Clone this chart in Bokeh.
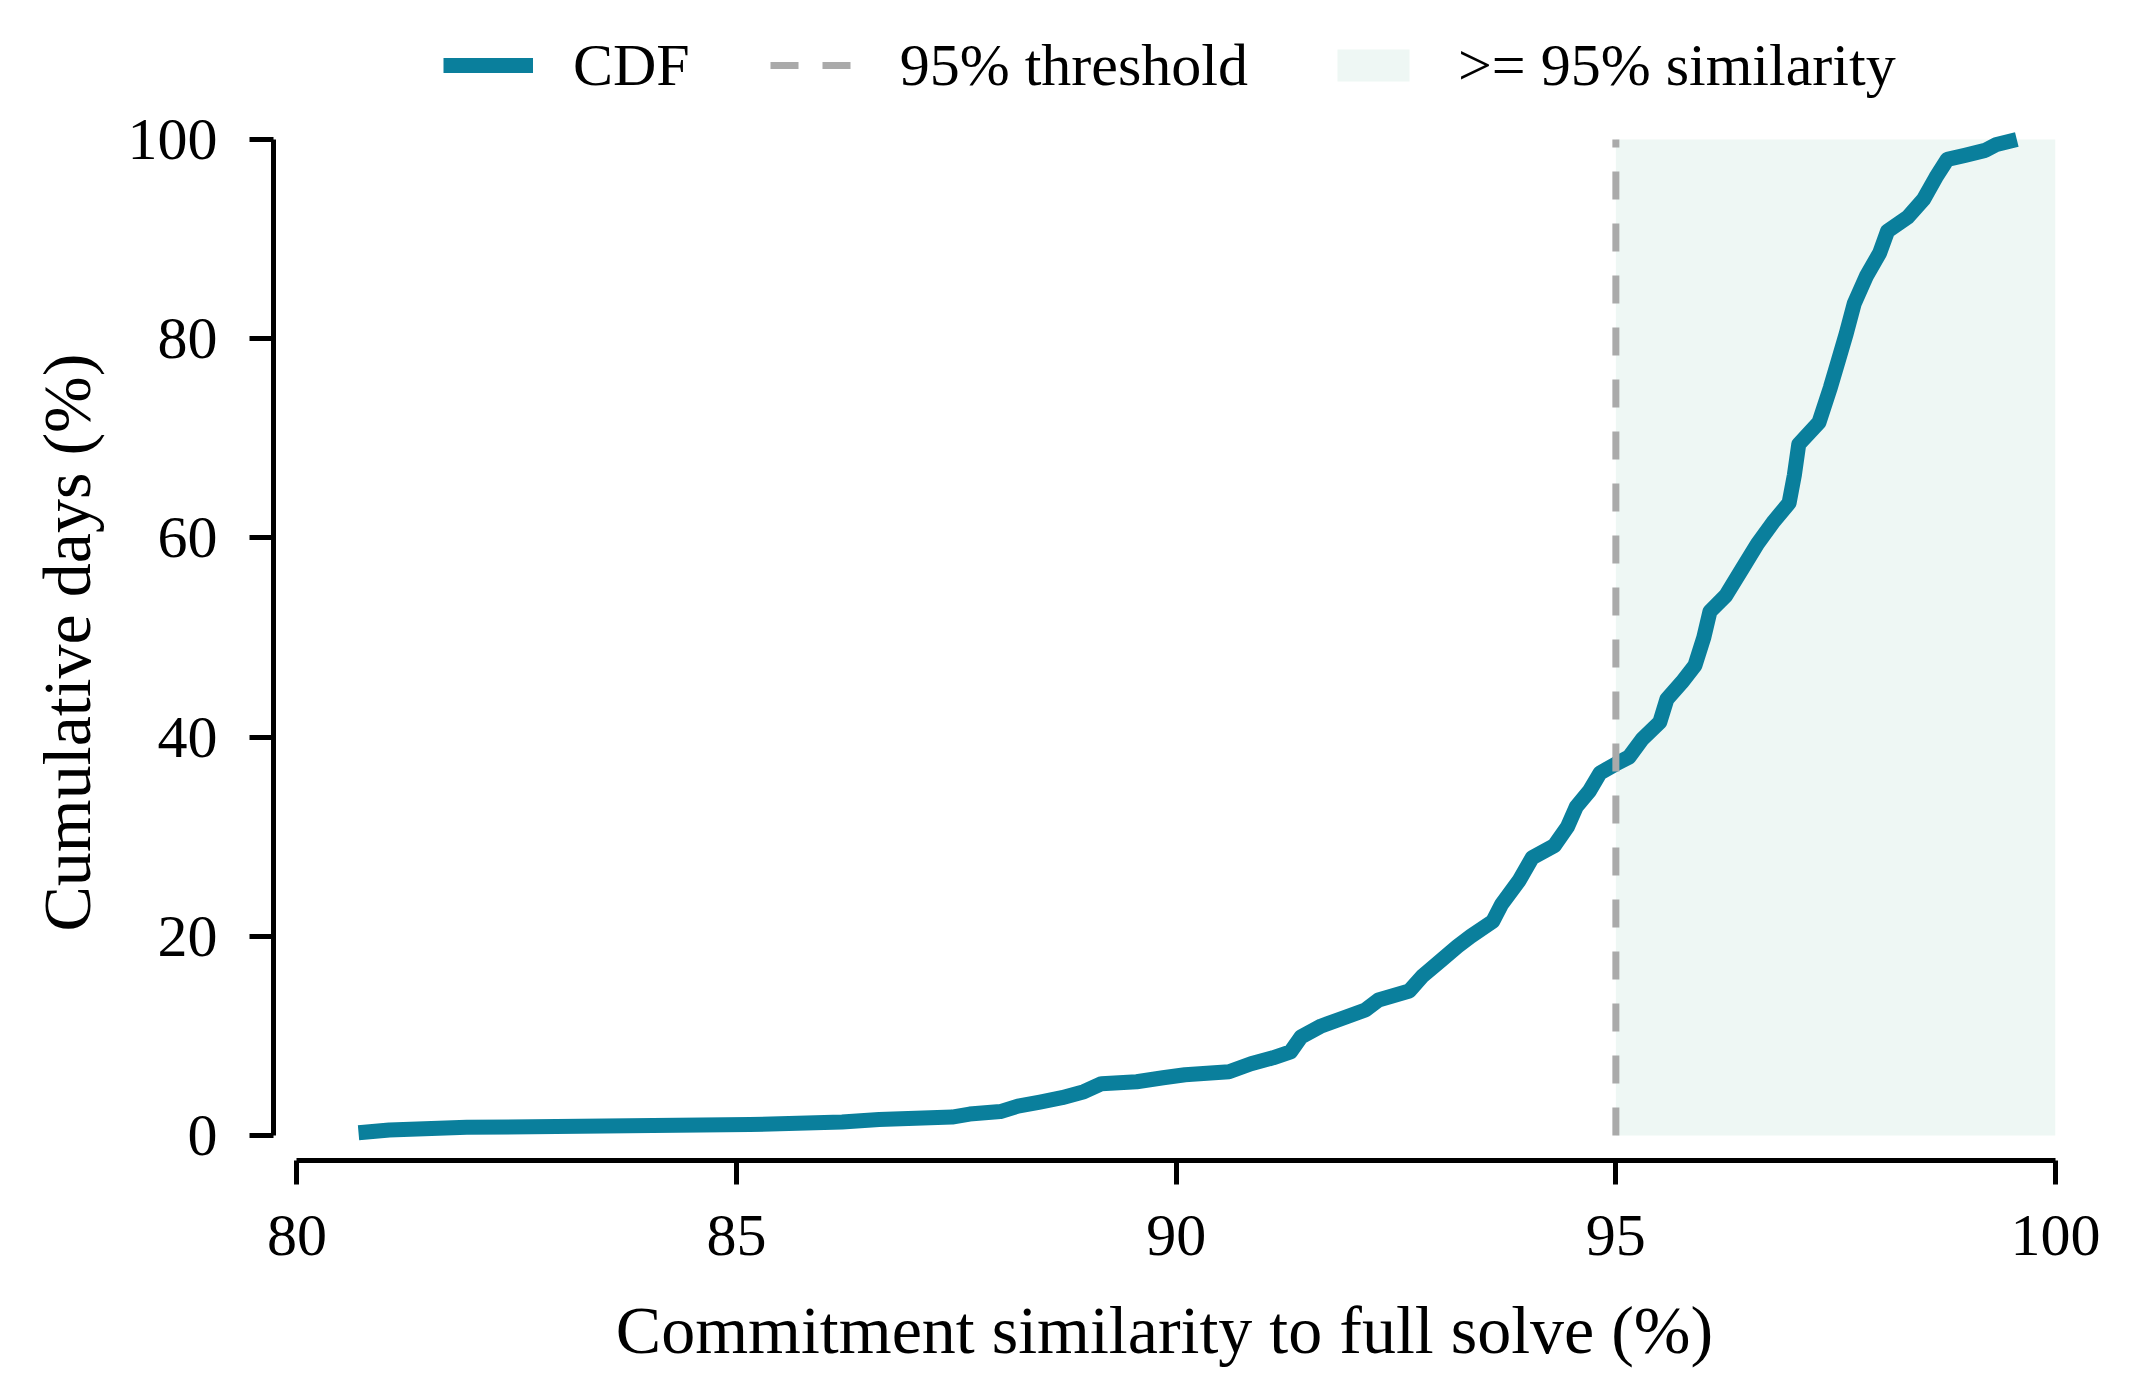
from bokeh.plotting import figure
from bokeh.models import Range1d, FixedTicker, Legend, LegendItem, ColumnDataSource, Title
from bokeh.core.properties import value
from bokeh.embed import file_html
from bokeh.resources import INLINE

# ---- data ----
sim_pct = [80.70, 81.05, 81.93, 85.15, 86.20, 86.62, 87.45, 87.65, 88.00, 88.20,
           88.45, 88.70, 88.95, 89.15, 89.55, 89.85, 90.10, 90.60, 90.85, 91.10,
           91.30, 91.42, 91.65, 91.90, 92.15, 92.30, 92.65, 92.80, 93.00, 93.20,
           93.35, 93.60, 93.70, 93.90, 94.05, 94.30, 94.45, 94.55, 94.70, 94.82,
           95.00, 95.15, 95.30, 95.50, 95.58, 95.75, 95.90, 96.00, 96.07, 96.25,
           96.43, 96.61, 96.80, 96.97, 97.03, 97.08, 97.31, 97.44, 97.53, 97.62,
           97.71, 97.85, 98.00, 98.09, 98.32, 98.50, 98.64, 98.77, 98.97, 99.20,
           99.33, 99.56]
cum_pct = [0.27, 0.55, 0.82, 1.10, 1.35, 1.60, 1.85, 2.15, 2.40, 2.95,
           3.35, 3.80, 4.40, 5.20, 5.40, 5.80, 6.10, 6.40, 7.20, 7.80,
           8.40, 9.90, 11.00, 11.80, 12.60, 13.60, 14.50, 16.00, 17.50, 19.00,
           20.00, 21.50, 23.20, 25.60, 27.90, 29.10, 31.00, 33.00, 34.60, 36.40,
           37.30, 38.00, 39.80, 41.50, 43.80, 45.50, 47.20, 50.00, 52.60, 54.20,
           56.80, 59.40, 61.70, 63.50, 66.30, 69.40, 71.60, 75.10, 77.80, 80.50,
           83.50, 86.30, 88.60, 90.80, 92.20, 94.00, 96.20, 98.00, 98.40, 98.90,
           99.50, 100.0]
threshold_x = [95, 95]
threshold_y = [0, 100]
band_left = [95]
band_right = [100]
band_bottom = [0]
band_top = [100]
x_ticks = [80, 85, 90, 95, 100]
y_ticks = [0, 20, 40, 60, 80, 100]
legend_labels = ["CDF", "95% threshold", ">= 95% similarity"]
x_label = "Commitment similarity to full solve (%)"
y_label = "Cumulative days (%)"

CDF_COLOR = "#0a7f9c"
BAND_COLOR = "#eef7f4"
THR_COLOR = "#aaaaaa"
FONT = "Liberation Serif"

p = figure(width=2118, height=1379,
           x_range=Range1d(79.733, 100), y_range=Range1d(-2.51, 113.95),
           output_backend="svg", toolbar_location=None,
           min_border_left=273, min_border_right=63,
           min_border_top=0, min_border_bottom=219)
p.background_fill_color = "white"
p.border_fill_color = "white"
p.outline_line_color = None
p.xgrid.visible = False
p.ygrid.visible = False

band_src = ColumnDataSource(dict(left=band_left, right=band_right, bottom=band_bottom, top=band_top))
r_band = p.quad(left="left", right="right", bottom="bottom", top="top", source=band_src,
                fill_color=BAND_COLOR, line_color=None)

cdf_src = ColumnDataSource(dict(x=sim_pct, y=cum_pct))
r_cdf = p.line(x="x", y="y", source=cdf_src, line_color=CDF_COLOR, line_width=15,
               line_join="round")

thr_src = ColumnDataSource(dict(x=threshold_x, y=threshold_y))
r_thr = p.line(x="x", y="y", source=thr_src, line_color=THR_COLOR, line_width=7,
               line_dash="28 24")

for ax, ticks, bounds in ((p.xaxis, x_ticks, (80, 100)), (p.yaxis, y_ticks, (0, 100))):
    ax.ticker = FixedTicker(ticks=ticks)
    ax.bounds = bounds
    ax.axis_line_width = 5
    ax.axis_line_color = "black"
    ax.major_tick_line_width = 5
    ax.major_tick_line_color = "black"
    ax.major_tick_out = 24
    ax.major_tick_in = 0
    ax.minor_tick_line_color = None
    ax.major_label_text_font = FONT
    ax.major_label_text_font_size = "60px"
    ax.major_label_text_color = "black"
    ax.axis_label_text_font = FONT
    ax.axis_label_text_font_size = "68px"
    ax.axis_label_text_font_style = "normal"
    ax.axis_label_text_color = "black"

p.xaxis.axis_label = x_label
p.xaxis.major_label_standoff = 31
p.yaxis.major_label_standoff = 32
p.xaxis.axis_label_standoff = 34

# y-axis title, centred on the 0-100 span of the axis
ytitle = Title(text=y_label, align="left", offset=229, standoff=40,
               text_font=FONT, text_font_size="68px", text_font_style="normal",
               text_color="black")
p.add_layout(ytitle, "left")

legend = Legend(items=[
    LegendItem(label=value(legend_labels[0]), renderers=[r_cdf]),
    LegendItem(label=value(legend_labels[1]), renderers=[r_thr]),
    LegendItem(label=value(legend_labels[2]), renderers=[r_band]),
], orientation="horizontal", location=(170, 1055),
    glyph_width=90, glyph_height=40, label_height=80, label_standoff=40, spacing=80,
    padding=0, margin=0, border_line_color=None, background_fill_alpha=0,
    label_text_font=FONT, label_text_font_size="60px", label_text_color="black")
p.add_layout(legend)

open("out.html", "w").write(file_html(p, INLINE))
